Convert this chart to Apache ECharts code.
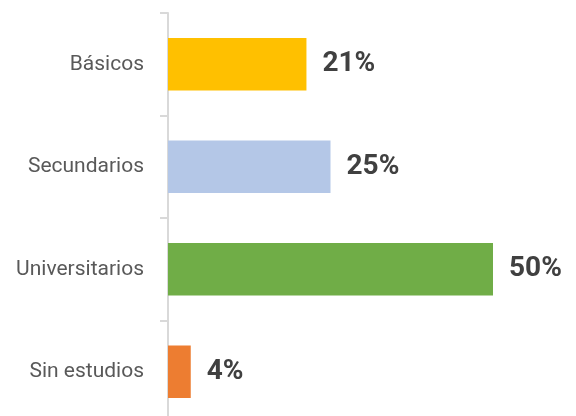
<!DOCTYPE html>
<html><head><meta charset="utf-8">
<script src="https://cdn.jsdelivr.net/npm/echarts@6/dist/echarts.min.js"></script>
<style>html,body{margin:0;padding:0;background:#fff;overflow:hidden}#c{width:576px;height:423px}</style>
</head><body><div id="c"></div>
<script>
var categories = ['Sin estudios', 'Universitarios', 'Secundarios', 'Básicos'];
var values = [3.5, 50, 25, 21.3];
var barColors = ['#ED7D31', '#70AD47', '#B4C7E7', '#FFC000'];
var chart = echarts.init(document.getElementById('c'));
chart.setOption({
  animation: false,
  grid: {left: 168, width: 390, top: 13, bottom: 0},
  xAxis: {type: 'value', min: 0, max: 60, show: false},
  yAxis: {
    type: 'category', data: categories,
    axisLine: {show: true, lineStyle: {color: '#D9D9D9', width: 2}},
    axisTick: {show: true, length: 8, lineStyle: {color: '#D9D9D9', width: 2}},
    axisLabel: {color: '#595959', fontSize: 21, margin: 24, fontFamily: 'Roboto, sans-serif'},
    splitLine: {show: false}
  },
  series: [{
    type: 'bar', barCategoryGap: '49%',
    data: values.map(function(v, i){ return {value: v, itemStyle: {color: barColors[i]}}; }),
    label: {show: true, position: 'right', distance: 16, color: '#404040', fontWeight: 'bold', fontSize: 28,
      fontFamily: 'Roboto, sans-serif',
      formatter: function(p){ return Math.round(p.value) + '%'; }}
  }]
});
</script></body></html>
